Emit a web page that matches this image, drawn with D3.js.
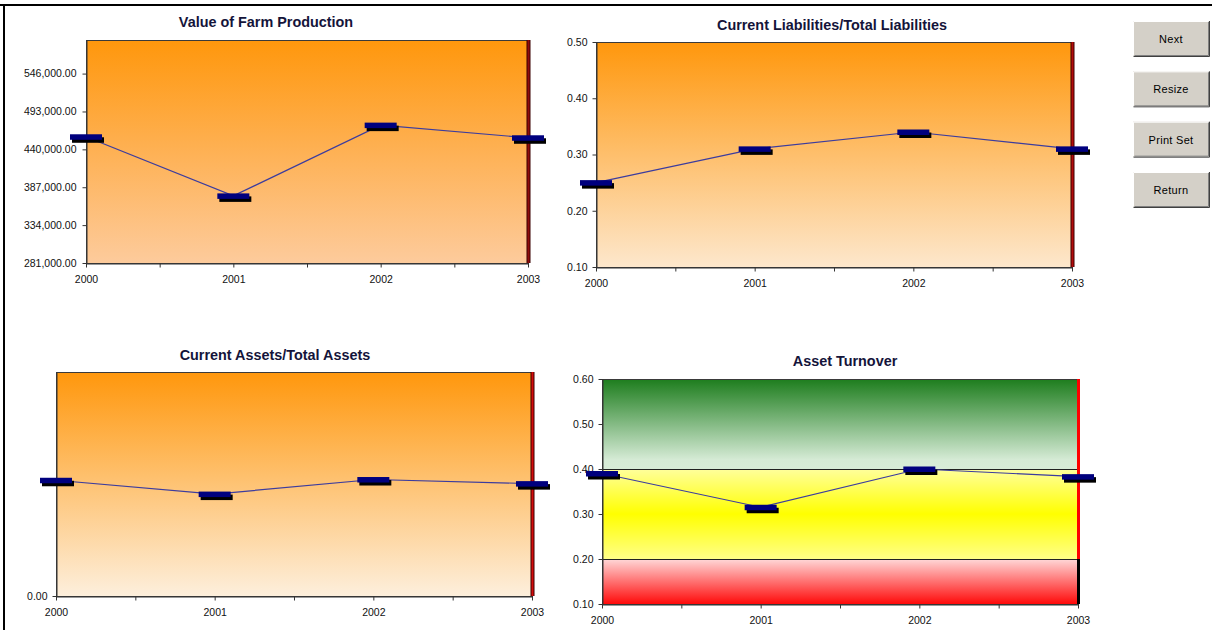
<!DOCTYPE html>
<html>
<head>
<meta charset="utf-8">
<script src="https://cdn.jsdelivr.net/npm/d3@7/dist/d3.min.js"></script>
<style>
  html, body { margin: 0; padding: 0; background: #ffffff; }
  svg { display: block; font-family: "Liberation Sans", Arial, sans-serif; }
</style>
</head>
<body>
<svg id="dash" width="1212" height="630"></svg>
<script>
// ---- data ----
const years = ["2000", "2001", "2002", "2003"];

const farmProduction = [457600, 374900, 473900, 456200];
const farmTicks = [281000, 334000, 387000, 440000, 493000, 546000];
const farmRange = [281000, 593000];

const liabilityRatio = [0.25, 0.31, 0.34, 0.31];
const liabilityTicks = [0.1, 0.2, 0.3, 0.4, 0.5];
const liabilityRange = [0.1, 0.5];

const assetRatio = [0.31, 0.273, 0.312, 0.301];
const assetTicks = [0];
const assetRange = [0, 0.6];

const assetTurnover = [0.39, 0.315, 0.40, 0.383];
const turnoverTicks = [0.1, 0.2, 0.3, 0.4, 0.5, 0.6];
const turnoverRange = [0.1, 0.6];
const turnoverBandEdges = [0.1, 0.2, 0.4, 0.6];   // poor / fair / good

const buttonLabels = ["Next", "Resize", "Print Set", "Return"];

// ---- layout ----
const svg = d3.select("#dash");
const defs = svg.append("defs");

function vGradient(id, stops) {
  const g = defs.append("linearGradient").attr("id", id)
    .attr("x1", 0).attr("y1", 0).attr("x2", 0).attr("y2", 1);
  stops.forEach(([o, c]) => g.append("stop").attr("offset", o).attr("stop-color", c));
}
vGradient("bgFarm", [[0, "#ff970c"], [1, "#fdcb9c"]]);
vGradient("bgLiab", [[0, "#ff970c"], [1, "#fde7cc"]]);
vGradient("bgAsset", [[0, "#ff970c"], [1, "#fdefdc"]]);
vGradient("bandGood", [[0, "#1d7d1d"], [0.9, "#d6ebd6"], [1, "#d8ecd8"]]);
vGradient("bandFair", [[0, "#ffff9c"], [0.5, "#ffff00"], [1, "#ffff88"]]);
vGradient("bandPoor", [[0, "#ffd8d8"], [1, "#ff0a0a"]]);

// outer frame
svg.append("rect").attr("x", 0).attr("y", 4).attr("width", 1212).attr("height", 2).attr("fill", "#000");
svg.append("rect").attr("x", 3).attr("y", 4).attr("width", 2).attr("height", 626).attr("fill", "#000");

const charts = [
  { title: "Value of Farm Production", titleX: 266, titleY: 27,
    values: farmProduction, ticks: farmTicks, range: farmRange,
    fmt: d3.format(",.2f"), bg: "url(#bgFarm)",
    left: 86, right: 528, top: 40, bottom: 263, edge: "#8e0c0c", labelPad: 6 },
  { title: "Current Liabilities/Total Liabilities", titleX: 832, titleY: 30,
    values: liabilityRatio, ticks: liabilityTicks, range: liabilityRange,
    fmt: d3.format(".2f"), bg: "url(#bgLiab)",
    left: 596, right: 1072, top: 42, bottom: 267, edge: "#b30c0c", labelPad: 5 },
  { title: "Current Assets/Total Assets", titleX: 275, titleY: 360,
    values: assetRatio, ticks: assetTicks, range: assetRange,
    fmt: d3.format(".2f"), bg: "url(#bgAsset)",
    left: 56, right: 532, top: 372, bottom: 596, edge: "#d40c0c", labelPad: 5 },
  { title: "Asset Turnover", titleX: 845, titleY: 366,
    values: assetTurnover, ticks: turnoverTicks, range: turnoverRange,
    fmt: d3.format(".2f"), bg: null, bands: turnoverBandEdges,
    left: 602, right: 1078, top: 379, bottom: 604, edge: "#ff0000", labelPad: 5 }
];

charts.forEach(c => {
  const g = svg.append("g");
  const x = d3.scaleLinear().domain([0, years.length - 1]).range([c.left, c.right]);
  const y = d3.scaleLinear().domain(c.range).range([c.bottom, c.top]);

  // title
  g.append("text").attr("x", c.titleX).attr("y", c.titleY)
    .attr("text-anchor", "middle").attr("font-size", 14.4).attr("font-weight", "bold")
    .attr("fill", "#14143a").text(c.title);

  // plot background
  if (c.bg) {
    g.append("rect").attr("x", c.left).attr("y", c.top)
      .attr("width", c.right - c.left).attr("height", c.bottom - c.top)
      .attr("fill", c.bg);
  } else {
    const fills = ["url(#bandPoor)", "url(#bandFair)", "url(#bandGood)"];
    d3.pairs(c.bands).forEach(([lo, hi], i) => {
      g.append("rect").attr("x", c.left).attr("y", y(hi))
        .attr("width", c.right - c.left).attr("height", y(lo) - y(hi))
        .attr("fill", fills[i]);
    });
    c.bands.slice(1, -1).forEach(v => {
      g.append("line").attr("x1", c.left).attr("x2", c.right)
        .attr("y1", Math.round(y(v)) + 0.5).attr("y2", Math.round(y(v)) + 0.5)
        .attr("stroke", "#222").attr("stroke-width", 1);
    });
  }
  g.append("rect").attr("x", c.left + 0.5).attr("y", c.top + 0.5)
    .attr("width", c.right - c.left).attr("height", c.bottom - c.top)
    .attr("fill", "none").attr("stroke", "#3a3a3a").attr("stroke-width", 1);

  // right edge marker for the latest year
  if (c.bands) {
    const split = y(c.bands[1]);
    g.append("rect").attr("x", x(3) - 1).attr("y", c.top).attr("width", 3)
      .attr("height", split - c.top).attr("fill", c.edge);
    g.append("rect").attr("x", x(3) - 1).attr("y", split).attr("width", 3)
      .attr("height", c.bottom - split).attr("fill", "#000");
  } else {
    g.append("rect").attr("x", x(3) - 1.5).attr("y", c.top).attr("width", 4)
      .attr("height", c.bottom - c.top).attr("fill", "#3a0000");
    g.append("rect").attr("x", x(3) - 0.5).attr("y", c.top).attr("width", 2)
      .attr("height", c.bottom - c.top).attr("fill", c.edge);
  }

  // y axis
  const ya = g.append("g").attr("transform", `translate(${c.left + 0.5},0)`)
    .call(d3.axisLeft(y).tickValues(c.ticks).tickSize(4).tickSizeOuter(0)
      .tickPadding(c.labelPad).tickFormat(c.fmt));
  // x axis with minor ticks between years
  const xa = g.append("g").attr("transform", `translate(0,${c.bottom + 0.5})`)
    .call(d3.axisBottom(x).tickValues([0, 0.5, 1, 1.5, 2, 2.5, 3]).tickSize(4)
      .tickSizeOuter(0).tickPadding(8)
      .tickFormat(i => Number.isInteger(i) ? years[i] : ""));
  [ya, xa].forEach(a => {
    a.selectAll("text").attr("font-size", 10.5).attr("fill", "#111")
      .attr("font-family", "'Liberation Sans', Arial, sans-serif");
    a.selectAll("line").attr("stroke", "#333");
    a.select(".domain").attr("stroke", "#333");
  });

  // series line
  g.append("path").datum(c.values)
    .attr("d", d3.line().x((d, i) => x(i)).y(d => y(d)))
    .attr("fill", "none").attr("stroke", "#3c3c9e").attr("stroke-width", 1.2);

  // dash markers with drop shadow
  const m = g.selectAll(".mk").data(c.values).enter().append("g");
  m.append("rect").attr("x", (d, i) => x(i) - 14).attr("y", d => y(d) + 0.5)
    .attr("width", 32).attr("height", 5.5).attr("fill", "#000");
  m.append("rect").attr("x", (d, i) => x(i) - 16).attr("y", d => y(d) - 2.5)
    .attr("width", 32).attr("height", 5.5).attr("fill", "#00007e");
});

// side buttons
const btnY = d3.scalePoint().domain(buttonLabels).range([21, 172]);
const btn = svg.selectAll(".btn").data(buttonLabels).enter().append("g")
  .attr("transform", d => `translate(1133,${btnY(d)})`);
btn.append("rect").attr("width", 76).attr("height", 35).attr("fill", "#d4d0c8");
btn.append("path").attr("d", "M0.5,34.5 V0.5 H75.5").attr("fill", "none").attr("stroke", "#ffffff");
btn.append("path").attr("d", "M0.5,35.5 H76.5 V0").attr("fill", "none").attr("stroke", "#404040");
btn.append("path").attr("d", "M1.5,34.5 H75.5 V1").attr("fill", "none").attr("stroke", "#808080");
btn.append("text").attr("x", 38).attr("y", 22).attr("text-anchor", "middle")
  .attr("font-size", 11).attr("letter-spacing", 0.3).attr("fill", "#000").text(d => d);
</script>
</body>
</html>
